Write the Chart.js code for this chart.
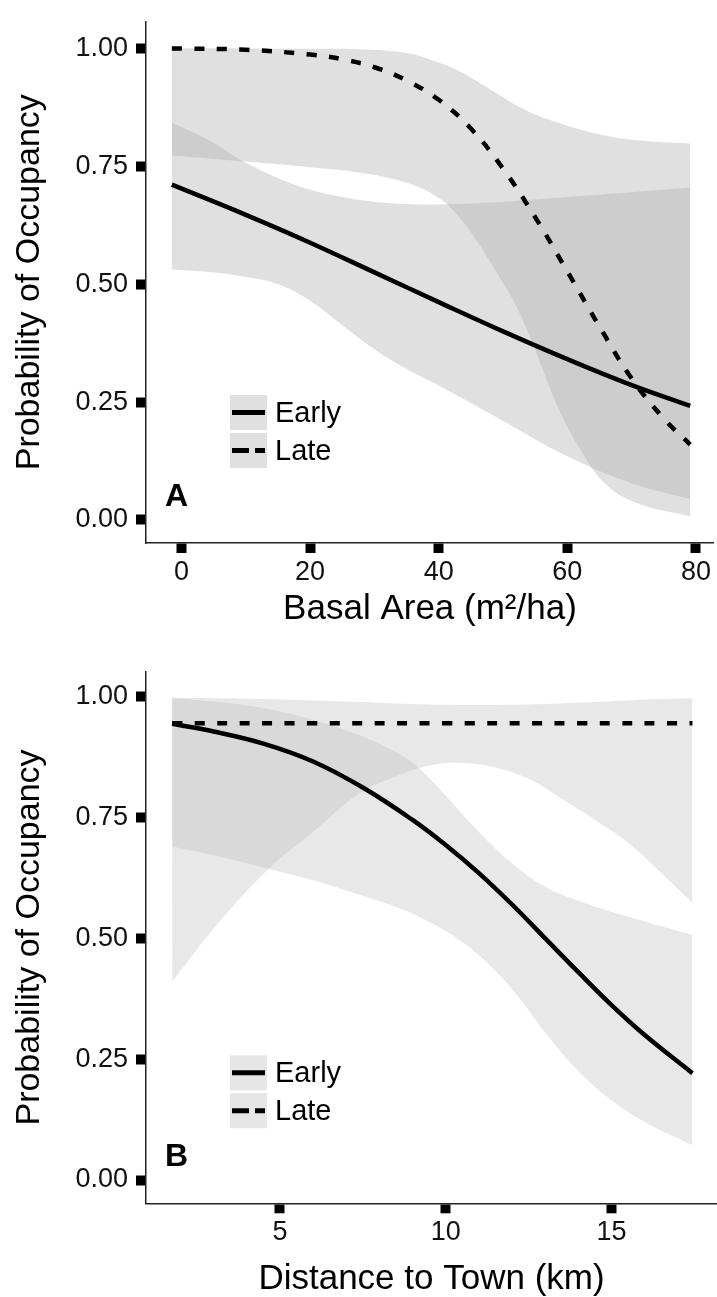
<!DOCTYPE html>
<html>
<head>
<meta charset="utf-8">
<script src="https://cdn.jsdelivr.net/npm/chart.js@4.4.1/dist/chart.umd.min.js"></script>
<style>
html,body{margin:0;padding:0;background:#fff;width:717px;height:1297px;overflow:hidden}
canvas{position:absolute;left:0;display:block}
#cA{top:0}
#cB{top:650px}
</style>
</head>
<body>
<canvas id="cA" width="717" height="650"></canvas>
<canvas id="cB" width="717" height="647"></canvas>
<script>
// ---------- data ----------
const seriesNames = ['Early', 'Late'];
const panelLabels = ['A', 'B'];
const yTitle = 'Probability of Occupancy';
const xTitles = ['Basal Area (m\u00B2/ha)', 'Distance to Town (km)'];
const probTicks = [0, 0.25, 0.5, 0.75, 1];
const basalTicks = [0, 20, 40, 60, 80];
const distanceTicks = [5, 10, 15];

// Panel A : basal area
const aEarlyX = [-1.5, 10, 20, 30, 40, 50, 60, 70, 79.1];
const aEarlyY = [0.711, 0.647, 0.588, 0.525, 0.462, 0.400, 0.341, 0.286, 0.242];
const aLateX = [-1.5, 10, 20, 25, 30, 35, 40, 45, 50, 55, 60, 65, 70, 75, 79.1];
const aLateY = [1.000, 0.997, 0.987, 0.977, 0.960, 0.932, 0.891, 0.830, 0.745, 0.642, 0.527, 0.410, 0.300, 0.215, 0.160];
const aLateBandX = [-1.5, 10, 20, 27.5, 35, 40, 43, 46, 49, 52, 55, 58.5, 62, 66, 71, 79.1];
const aLateUpper = [1.0, 1.0, 0.999, 0.998, 0.99, 0.97, 0.953, 0.93, 0.905, 0.88, 0.86, 0.843, 0.828, 0.815, 0.805, 0.798];
const aLateLower = [0.773, 0.76, 0.748, 0.737, 0.715, 0.683, 0.645, 0.59, 0.525, 0.455, 0.36, 0.24, 0.15, 0.075, 0.035, 0.008];
const aEarlyBandX = [-1.5, 5, 9, 15, 20, 25, 30, 35, 40, 50, 60, 70, 79.1];
const aEarlyUpper = [0.843, 0.80, 0.765, 0.725, 0.70, 0.685, 0.675, 0.67, 0.669, 0.675, 0.685, 0.695, 0.705];
const aEarlyLower = [0.531, 0.525, 0.518, 0.50, 0.465, 0.413, 0.362, 0.32, 0.285, 0.21, 0.135, 0.078, 0.044];

// Panel B : distance to town
const bEarlyX = [1.75, 3, 4.5, 6, 7.5, 9, 10, 11, 12, 13, 14, 15, 16, 17.44];
const bEarlyY = [0.944, 0.928, 0.903, 0.866, 0.812, 0.745, 0.693, 0.635, 0.57, 0.50, 0.43, 0.362, 0.30, 0.221];
const bLateX = [1.75, 6, 10, 14, 17.44];
const bLateY = [0.945, 0.945, 0.945, 0.945, 0.945];
const bLateBandX = [1.75, 3, 4.6, 6, 7.4, 8.5, 9.5, 10.4, 11.4, 12.5, 13.4, 14.5, 15.5, 16.5, 17.44];
const bLateUpper = [0.998, 0.997, 0.995, 0.992, 0.989, 0.986, 0.984, 0.983, 0.983, 0.984, 0.986, 0.989, 0.992, 0.995, 0.997];
const bLateLower = [0.41, 0.52, 0.64, 0.72, 0.80, 0.835, 0.857, 0.863, 0.855, 0.83, 0.793, 0.745, 0.698, 0.635, 0.573];
const bEarlyBandX = [1.75, 3, 4.6, 6, 7.4, 8.5, 9.1, 10, 11, 12, 13, 14, 15, 16, 17.44];
const bEarlyUpper = [0.997, 0.99, 0.975, 0.952, 0.92, 0.885, 0.858, 0.795, 0.72, 0.655, 0.607, 0.578, 0.555, 0.535, 0.507];
const bEarlyLower = [0.69, 0.672, 0.645, 0.62, 0.59, 0.565, 0.548, 0.515, 0.465, 0.395, 0.305, 0.225, 0.165, 0.12, 0.072];

// ---------- styling / helpers ----------
const FONT = "'Liberation Sans', Arial, Helvetica, sans-serif";
function toPts(xs, ys) { return xs.map((x, i) => ({ x: x, y: ys[i] })); }

const insideLegend = {
  id: 'insideLegend',
  afterDatasetsDraw(chart, args, o) {
    const ctx = chart.ctx, a = chart.chartArea;
    ctx.save();
    seriesNames.forEach((name, i) => {
      const ds = chart.data.datasets[i];
      const x0 = a.left + o.dx;
      const y0 = a.bottom - o.dyFromBottom + i * (o.boxH + o.gap);
      ctx.fillStyle = o.keyFill;
      ctx.fillRect(x0, y0, o.boxW, o.boxH);
      ctx.strokeStyle = ds.borderColor;
      ctx.lineWidth = o.lineWidth;
      ctx.lineCap = 'butt';
      ctx.setLineDash(ds.borderDash ? o.keyDash : []);
      ctx.beginPath();
      ctx.moveTo(x0 + 2, y0 + o.boxH / 2);
      ctx.lineTo(x0 + o.boxW - 2, y0 + o.boxH / 2);
      ctx.stroke();
      ctx.setLineDash([]);
      ctx.fillStyle = '#000';
      ctx.font = o.fontSize + 'px ' + FONT;
      ctx.textAlign = 'left';
      ctx.textBaseline = 'middle';
      ctx.fillText(name, x0 + o.boxW + 8, y0 + o.boxH / 2 + 1);
    });
    ctx.font = 'bold ' + o.labelSize + 'px ' + FONT;
    ctx.fillStyle = '#000';
    ctx.textAlign = 'left';
    ctx.textBaseline = 'middle';
    ctx.fillText(o.panel, a.left + o.labelDx, a.bottom - o.labelDyFromBottom);
    ctx.restore();
  }
};

function axisCommon() {
  return {
    grid: { display: true, drawOnChartArea: false, drawTicks: true, tickLength: 10, tickWidth: 10, tickColor: '#000' },
    border: { display: true, color: '#222', width: 1.5 }
  };
}

function buildConfig(p) {
  const lineBase = { pointRadius: 0, tension: 0.4, fill: false, borderCapStyle: 'butt' };
  const bandBase = { pointRadius: 0, tension: 0.4, borderWidth: 0, borderColor: 'transparent' };
  return {
    type: 'line',
    data: {
      datasets: [
        Object.assign({}, lineBase, { label: seriesNames[0], data: toPts(p.earlyX, p.earlyY), borderColor: '#000', borderWidth: 4.5, order: 0 }),
        Object.assign({}, lineBase, { label: seriesNames[1], data: toPts(p.lateX, p.lateY), borderColor: '#000', borderWidth: 4.5, borderDash: [10, 12.5], order: 1 }),
        Object.assign({}, bandBase, { label: 'late-upper', data: toPts(p.lateBandX, p.lateUpper), fill: false, order: 3 }),
        Object.assign({}, bandBase, { label: 'late-lower', data: toPts(p.lateBandX, p.lateLower), fill: '-1', backgroundColor: p.band, order: 3 }),
        Object.assign({}, bandBase, { label: 'early-upper', data: toPts(p.earlyBandX, p.earlyUpper), fill: false, order: 2 }),
        Object.assign({}, bandBase, { label: 'early-lower', data: toPts(p.earlyBandX, p.earlyLower), fill: '-1', backgroundColor: p.band, order: 2 })
      ]
    },
    options: {
      responsive: false,
      animation: false,
      devicePixelRatio: 1,
      layout: { padding: { top: p.padTop, left: 0, right: 0, bottom: 0 } },
      plugins: {
        legend: { display: false },
        tooltip: { enabled: false },
        insideLegend: {
          dx: 84, dyFromBottom: 148, boxW: 37, boxH: 35, gap: 3, keyFill: p.keyFill,
          lineWidth: 5, keyDash: [17, 6], fontSize: 29,
          panel: p.panel, labelSize: 32, labelDx: 19, labelDyFromBottom: 46
        }
      },
      scales: {
        x: Object.assign(axisCommon(), {
          type: 'linear', min: p.xMin, max: p.xMax,
          afterBuildTicks: s => { s.ticks = p.xTicks.map(v => ({ value: v })); },
          afterFit: s => { s.height = p.xAxisH; },
          ticks: { color: '#111', font: { family: FONT, size: 27, lineHeight: 1 }, padding: 6, maxRotation: 0, autoSkip: false, callback: v => String(v) },
          title: { display: true, text: p.xTitle, color: '#000', font: { family: FONT, size: 35, lineHeight: 1 }, padding: { top: 0, bottom: p.xTitlePad } }
        }),
        y: Object.assign(axisCommon(), {
          type: 'linear', min: p.yMin, max: p.yMax,
          afterBuildTicks: s => { s.ticks = probTicks.map(v => ({ value: v })); },
          afterFit: s => { s.width = 146; },
          ticks: { color: '#111', font: { family: FONT, size: 27, lineHeight: 1 }, padding: 8, autoSkip: false, callback: v => Number(v).toFixed(2) },
          title: { display: true, text: yTitle, color: '#000', font: { family: FONT, size: 34, lineHeight: 1 }, padding: { top: 13, bottom: 0 } }
        })
      }
    },
    plugins: [insideLegend]
  };
}

new Chart(document.getElementById('cA'), buildConfig({
  earlyX: aEarlyX, earlyY: aEarlyY, lateX: aLateX, lateY: aLateY,
  lateBandX: aLateBandX, lateUpper: aLateUpper, lateLower: aLateLower,
  earlyBandX: aEarlyBandX, earlyUpper: aEarlyUpper, earlyLower: aEarlyLower,
  band: 'rgba(175,175,175,0.387)', keyFill: '#e0e0e0',
  xMin: -5.52, xMax: 82.79, yMin: -0.0488, yMax: 1.057,
  xTicks: basalTicks, xTitle: xTitles[0], xAxisH: 107, xTitlePad: 23, padTop: 10, panel: panelLabels[0]
}));

new Chart(document.getElementById('cB'), buildConfig({
  earlyX: bEarlyX, earlyY: bEarlyY, lateX: bLateX, lateY: bLateY,
  lateBandX: bLateBandX, lateUpper: bLateUpper, lateLower: bLateLower,
  earlyBandX: bEarlyBandX, earlyUpper: bEarlyUpper, earlyLower: bEarlyLower,
  band: 'rgba(189,189,189,0.348)', keyFill: '#e6e6e6',
  xMin: 0.962, xMax: 18.18, yMin: -0.0482, yMax: 1.0517,
  xTicks: distanceTicks, xTitle: xTitles[1], xAxisH: 93.7, xTitlePad: 0, padTop: 21.7, panel: panelLabels[1]
}));
</script>
</body>
</html>
